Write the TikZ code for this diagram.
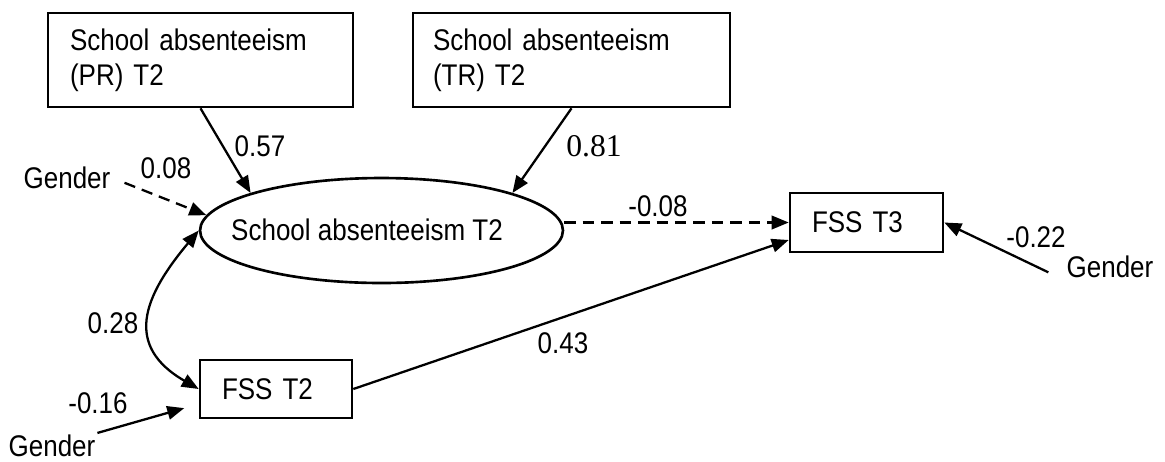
\documentclass[tikz,border=0pt]{standalone}
\usepackage{fontspec}
\setmainfont{Liberation Sans}[FakeStretch=0.87]
\newfontfamily\coefserif{Liberation Serif}
\usetikzlibrary{arrows.meta,shapes.geometric}

\begin{document}
\begin{tikzpicture}[x=0.02cm, y=-0.02cm,
    font=\fontsize{17}{20}\selectfont,
    >={Triangle[length=0.34cm,width=0.27cm]},
    box/.style={draw, line width=1.5pt, align=left, inner ysep=0pt},
    latent/.style={draw, ellipse, line width=1.5pt, inner sep=0pt},
    effect/.style={->, line width=1.3pt},
    effectdash/.style={->, line width=1.3pt, dash pattern=on 6.5pt off 4pt},
    coef/.style={inner sep=1pt},
    covar/.style={inner sep=1pt}]
    \useasboundingbox (0,0) rectangle (1165,461);

    % Observed and latent variables
    \node[box, text width=5.22cm, inner xsep=0.44cm, minimum height=1.88cm] (pr) at (200.5,60) {School absenteeism\\(PR) T2};
    \node[box, text width=5.54cm, inner xsep=0.4cm, minimum height=1.88cm] (tr) at (571.5,60) {School absenteeism\\(TR) T2};
    \node[latent, minimum width=7.26cm, minimum height=2.1cm] (ell) at (381.5,230.5) {};
    \node (elltxt) at (367,230) {School absenteeism T2};
    \node[box, text width=2.18cm, inner xsep=0.44cm, minimum height=1.18cm] (fss3) at (866.5,222.5) {FSS T3};
    \node[box, text width=2.16cm, inner xsep=0.44cm, minimum height=1.16cm] (fss2) at (276,389) {FSS T2};

    % Covariates
    \node[covar] (gen1) at (67,178) {Gender};
    \node[covar] (gen2) at (1110,267) {Gender};
    \node[covar] (gen3) at (52,446) {Gender};

    % Paths
    \draw[effect] (pr.south) -- (ell.164);
    \draw[effect] (tr.south) -- (ell.16);
    \draw[effectdash, shorten <=0.26cm] (gen1.east) -- (ell.175);
    \draw[effect, <->] (ell.west) to[out=-130, in=150, looseness=1.4] (fss2.west);
    \draw[effectdash] (fss3.west -| ell.east) -- (fss3.west);
    \draw[effect] (fss2.east) -- ([yshift=-0.35cm]fss3.west);
    \draw[effect, shorten <=0.36cm] (gen2.south west) -- (fss3.east);
    \draw[effect, shorten >=0.3cm] (gen3.north east) -- ([yshift=-0.3cm]fss2.west);

    % Coefficients
    \node[coef] (c057) at (260,146) {0.57};
    \node[coef, font=\coefserif\fontsize{18}{20}\selectfont] (c081) at (594,146) {0.81};
    \node[coef] (c008) at (166,168) {0.08};
    \node[coef] (cm008) at (658,206) {-0.08};
    \node[coef] (cm022) at (1036,237) {-0.22};
    \node[coef] (c028) at (113,323) {0.28};
    \node[coef] (c043) at (563,343) {0.43};
    \node[coef] (cm016) at (98,403) {-0.16};
\end{tikzpicture}
\end{document}
